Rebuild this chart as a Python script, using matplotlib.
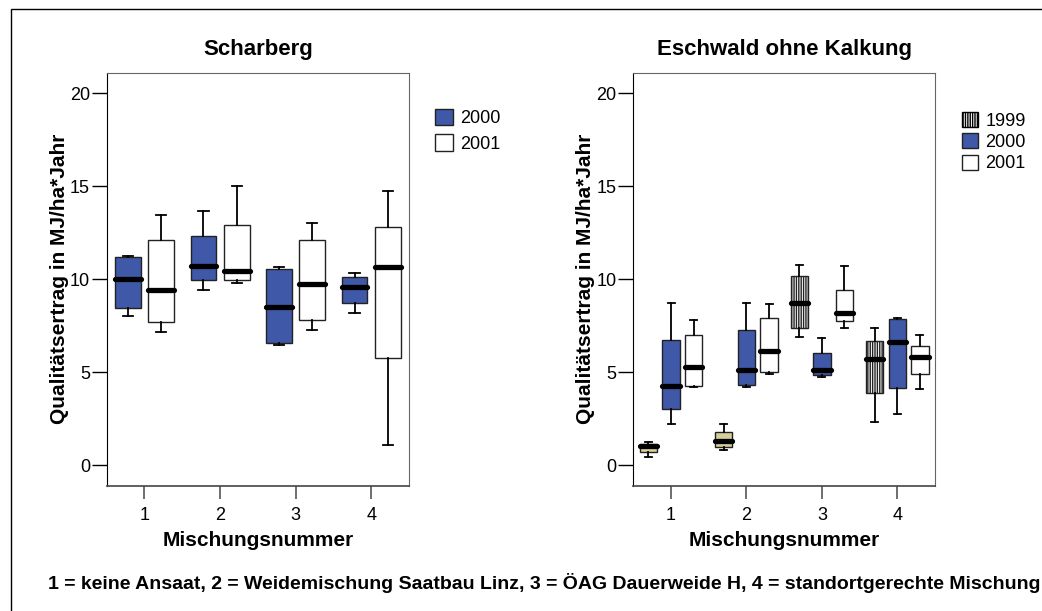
import matplotlib
matplotlib.use("Agg")
import matplotlib.pyplot as plt
from matplotlib.patches import Patch, Rectangle

plt.rcParams['font.family'] = ['Liberation Sans', 'DejaVu Sans']
plt.rcParams['hatch.linewidth'] = 1.0

# box statistics: (whisker low, q1, median, q3, whisker high)
groups = [1, 2, 3, 4]

scharberg_2000 = [(8.02, 8.47, 10.03, 11.18, 11.25),
                  (9.44, 9.94, 10.72, 12.30, 13.64),
                  (6.46, 6.55, 8.53, 10.54, 10.68),
                  (8.20, 8.74, 9.57, 10.09, 10.32)]
scharberg_2001 = [(7.16, 7.68, 9.44, 12.12, 13.46),
                  (9.78, 9.94, 10.45, 12.89, 15.00),
                  (7.27, 7.79, 9.73, 12.12, 13.00),
                  (1.06, 5.74, 10.64, 12.83, 14.75)]

eschwald_1999 = [(0.45, 0.70, 1.02, 1.13, 1.24),
                 (0.81, 1.00, 1.29, 1.78, 2.21),
                 (6.89, 7.36, 8.74, 10.16, 10.77),
                 (2.32, 3.89, 5.71, 6.69, 7.38)]
eschwald_2000 = [(2.21, 3.03, 4.27, 6.73, 8.74),
                 (4.22, 4.33, 5.10, 7.27, 8.74),
                 (4.74, 4.83, 5.10, 6.05, 6.84),
                 (2.75, 4.15, 6.62, 7.88, 7.90)]
eschwald_2001 = [(4.22, 4.25, 5.26, 6.98, 7.81),
                 (4.88, 5.01, 6.14, 7.92, 8.69),
                 (7.38, 7.77, 8.20, 9.44, 10.72),
                 (4.11, 4.92, 5.80, 6.41, 7.00)]

blue = '#3f58a8'
khaki = '#d6cf9c'


def to_stats(rows):
    return [dict(whislo=a, q1=b, med=c, q3=d, whishi=e, fliers=[]) for a, b, c, d, e in rows]


def draw(ax, rows, offset, width, colors, hatch=None):
    pos = [g + offset for g in groups]
    bp = ax.bxp(to_stats(rows), positions=pos, widths=width, patch_artist=True,
                capwidths=width * 0.4, manage_ticks=False,
                boxprops=dict(edgecolor='#222222', linewidth=1.0),
                whiskerprops=dict(color='black', linewidth=1.3),
                capprops=dict(color='black', linewidth=1.3),
                medianprops=dict(color='black', linewidth=3.8, solid_capstyle='round'))
    for i, b in enumerate(bp['boxes']):
        b.set_facecolor(colors[i])
        if hatch and hatch[i]:
            b.set_hatch(hatch[i])


def style(ax, title):
    ax.set_xlim(0.5, 4.5)
    ax.set_ylim(-1.1, 21.1)
    ax.set_xticks(groups)
    ax.set_yticks([0, 5, 10, 15, 20])
    ax.tick_params(axis='y', length=11, width=1, labelsize=13, pad=1)
    ax.tick_params(axis='x', length=9.5, width=1.2, labelsize=13, pad=6, color='#555555')
    for s in ['top', 'right']:
        ax.spines[s].set_color('#666666')
    ax.spines['bottom'].set_color('#444444')
    ax.spines['bottom'].set_linewidth(1.2)
    ax.spines['left'].set_color('black')
    ax.set_title(title, fontsize=16, fontweight='bold', pad=13)
    ax.set_xlabel('Mischungsnummer', fontsize=15, fontweight='bold', labelpad=5)
    ax.set_ylabel('Qualitätsertrag in MJ/ha*Jahr', fontsize=15, fontweight='bold', labelpad=1)


fig = plt.figure(figsize=(10.42, 6.11), dpi=100)
ax1 = fig.add_axes([0.1024, 0.2051, 0.2901, 0.676])
ax2 = fig.add_axes([0.6078, 0.2051, 0.2895, 0.676])

draw(ax1, scharberg_2000, -0.22, 0.34, [blue] * 4)
draw(ax1, scharberg_2001, 0.22, 0.34, ['white'] * 4)
style(ax1, 'Scharberg')

draw(ax2, eschwald_1999, -0.3, 0.23, [khaki, khaki, 'white', 'white'],
     hatch=[None, None, '|' * 7, '|' * 7])
draw(ax2, eschwald_2000, 0.0, 0.23, [blue] * 4)
draw(ax2, eschwald_2001, 0.3, 0.23, ['white'] * 4)
style(ax2, 'Eschwald ohne Kalkung')

h2000 = Patch(facecolor=blue, edgecolor='#222222', label='2000')
h2001 = Patch(facecolor='white', edgecolor='#222222', label='2001')
h1999 = Patch(facecolor='white', edgecolor='black', hatch='|' * 7, label='1999')

ax1.legend(handles=[h2000, h2001], loc='upper left', frameon=False, fontsize=13,
           bbox_to_anchor=(435 / 1042, 1 - 109 / 611), bbox_transform=fig.transFigure,
           borderpad=0, borderaxespad=0, handlelength=1.0, handleheight=1.0,
           handletextpad=0.4, labelspacing=0.4)
ax2.legend(handles=[h1999, h2000, h2001], loc='upper left', frameon=False, fontsize=13,
           bbox_to_anchor=(962 / 1042, 1 - 112 / 611), bbox_transform=fig.transFigure,
           borderpad=0, borderaxespad=0, handlelength=0.9, handleheight=0.9,
           handletextpad=0.4, labelspacing=0.2)

fig.text(0.522, 1 - 583 / 611,
         '1 = keine Ansaat, 2 = Weidemischung Saatbau Linz, 3 = ÖAG Dauerweide H, 4 = standortgerechte Mischung',
         ha='center', va='center', fontsize=14, fontweight='bold')

# outer frame, open at right and bottom like the original
fig.patches.append(Rectangle((11 / 1042, -0.1), 1.2, 1.1 - 9 / 611, transform=fig.transFigure,
                             fill=False, edgecolor='black', linewidth=1.0, clip_on=False))

fig.savefig('out.png', dpi=100)
